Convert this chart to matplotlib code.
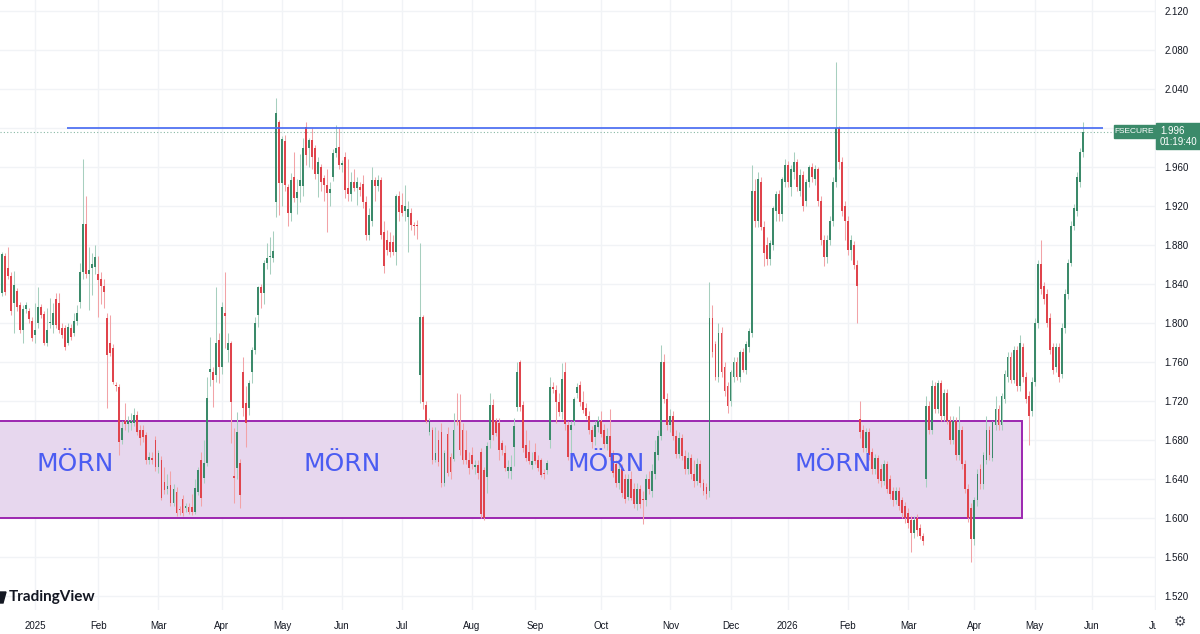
import numpy as np
import pandas as pd
import matplotlib
matplotlib.use("Agg")
import matplotlib.pyplot as plt
from matplotlib.patches import Rectangle, Polygon
from matplotlib.ticker import FormatStrFormatter
from matplotlib.transforms import Bbox

# daily candles, first one 2024-12-10, last one 2026-05-26
opens = [
    1.845, 1.831, 1.869, 1.856, 1.848, 1.821, 1.833, 1.818, 1.793, 1.814,
    1.812, 1.802, 1.788, 1.800, 1.816, 1.809, 1.780, 1.800, 1.798, 1.825,
    1.821, 1.795, 1.795, 1.780, 1.795, 1.790, 1.802, 1.822, 1.852, 1.902,
    1.850, 1.856, 1.857, 1.850, 1.845, 1.838, 1.805, 1.780, 1.774, 1.736,
    1.734, 1.680, 1.699, 1.696, 1.697, 1.697, 1.706, 1.690, 1.690, 1.685,
    1.659, 1.661, 1.680, 1.652, 1.660, 1.637, 1.630, 1.634, 1.615, 1.627,
    1.609, 1.620, 1.610, 1.611, 1.611, 1.606, 1.627, 1.660, 1.641, 1.656,
    1.750, 1.750, 1.747, 1.783, 1.755, 1.810, 1.772, 1.779, 1.643, 1.651,
    1.656, 1.750, 1.718, 1.713, 1.750, 1.772, 1.808, 1.837, 1.831, 1.862,
    1.868, 1.867, 1.924, 2.006, 1.944, 1.987, 1.940, 1.913, 1.950, 1.928,
    1.941, 1.941, 2.001, 1.980, 1.988, 1.979, 1.953, 1.960, 1.949, 1.942,
    1.933, 1.950, 1.974, 1.981, 1.962, 1.970, 1.938, 1.932, 1.945, 1.938,
    1.939, 1.943, 1.924, 1.890, 1.905, 1.947, 1.941, 1.947, 1.893, 1.885,
    1.883, 1.883, 1.873, 1.930, 1.921, 1.915, 1.909, 1.913, 1.901, 1.901,
    1.747, 1.806, 1.716, 1.688, 1.690, 1.660, 1.680, 1.688, 1.636, 1.686,
    1.663, 1.661, 1.700, 1.700, 1.690, 1.670, 1.660, 1.665, 1.652, 1.654,
    1.668, 1.649, 1.642, 1.680, 1.716, 1.700, 1.697, 1.677, 1.667, 1.648,
    1.648, 1.673, 1.714, 1.760, 1.716, 1.675, 1.668, 1.654, 1.668, 1.660,
    1.659, 1.646, 1.649, 1.680, 1.734, 1.731, 1.719, 1.709, 1.750, 1.695,
    1.690, 1.700, 1.728, 1.736, 1.719, 1.713, 1.705, 1.690, 1.683, 1.693,
    1.700, 1.690, 1.676, 1.684, 1.665, 1.655, 1.636, 1.650, 1.640, 1.622,
    1.640, 1.630, 1.614, 1.630, 1.620, 1.618, 1.640, 1.628, 1.645, 1.665,
    1.684, 1.760, 1.722, 1.695, 1.705, 1.684, 1.666, 1.682, 1.664, 1.650,
    1.662, 1.645, 1.638, 1.655, 1.636, 1.632, 1.628, 1.805, 1.778, 1.745,
    1.790, 1.755, 1.735, 1.720, 1.745, 1.760, 1.745, 1.770, 1.752, 1.775,
    1.790, 1.935, 1.905, 1.945, 1.898, 1.880, 1.866, 1.880, 1.915, 1.932,
    1.912, 1.945, 1.962, 1.940, 1.955, 1.965, 1.935, 1.952, 1.925, 1.945,
    1.960, 1.948, 1.958, 1.925, 1.885, 1.868, 1.885, 1.905, 1.945, 2.000,
    1.965, 1.920, 1.905, 1.875, 1.880, 1.860, 1.702, 1.690, 1.672, 1.688,
    1.668, 1.650, 1.662, 1.650, 1.638, 1.655, 1.640, 1.628, 1.618, 1.628,
    1.618, 1.612, 1.605, 1.598, 1.585, 1.600, 1.590, 1.582, 1.640, 1.715,
    1.690, 1.735, 1.712, 1.738, 1.705, 1.728, 1.700, 1.680, 1.700, 1.665,
    1.690, 1.655, 1.630, 1.610, 1.578, 1.618, 1.650, 1.635, 1.660, 1.690,
    1.662, 1.695, 1.712, 1.695, 1.722, 1.745, 1.765, 1.742, 1.772, 1.735,
    1.775, 1.745, 1.725, 1.710, 1.740, 1.800, 1.860, 1.838, 1.830, 1.805,
    1.775, 1.755, 1.775, 1.748, 1.795, 1.830, 1.862, 1.900, 1.915, 1.945,
    1.975,
]
highs = [
    1.852, 1.873, 1.872, 1.878, 1.852, 1.853, 1.836, 1.822, 1.818, 1.822,
    1.815, 1.806, 1.821, 1.837, 1.820, 1.812, 1.815, 1.826, 1.821, 1.831,
    1.831, 1.800, 1.798, 1.800, 1.799, 1.810, 1.818, 1.862, 1.968, 1.930,
    1.878, 1.872, 1.880, 1.869, 1.852, 1.845, 1.810, 1.808, 1.778, 1.740,
    1.737, 1.700, 1.718, 1.705, 1.708, 1.713, 1.710, 1.695, 1.695, 1.688,
    1.668, 1.668, 1.684, 1.670, 1.664, 1.652, 1.645, 1.648, 1.635, 1.632,
    1.612, 1.624, 1.615, 1.615, 1.625, 1.640, 1.652, 1.668, 1.680, 1.745,
    1.786, 1.755, 1.837, 1.790, 1.822, 1.852, 1.790, 1.782, 1.692, 1.709,
    1.661, 1.765, 1.735, 1.742, 1.775, 1.806, 1.838, 1.840, 1.865, 1.882,
    1.888, 1.894, 2.031, 2.008, 1.992, 1.993, 1.943, 1.954, 1.975, 1.948,
    1.973, 1.990, 2.006, 1.990, 2.000, 1.983, 1.970, 1.963, 1.952, 1.958,
    1.945, 1.978, 2.003, 2.000, 1.967, 1.975, 1.968, 1.955, 1.958, 1.950,
    1.945, 1.952, 1.930, 1.918, 1.960, 1.950, 1.952, 1.950, 1.905, 1.895,
    1.893, 1.890, 1.932, 1.935, 1.933, 1.942, 1.925, 1.918, 1.904, 1.906,
    1.882, 1.808, 1.720, 1.703, 1.693, 1.693, 1.690, 1.697, 1.670, 1.693,
    1.667, 1.708, 1.728, 1.727, 1.697, 1.690, 1.668, 1.673, 1.660, 1.660,
    1.672, 1.652, 1.678, 1.728, 1.722, 1.703, 1.703, 1.680, 1.675, 1.660,
    1.665, 1.703, 1.760, 1.762, 1.720, 1.690, 1.680, 1.668, 1.677, 1.665,
    1.662, 1.650, 1.660, 1.745, 1.740, 1.736, 1.728, 1.759, 1.760, 1.700,
    1.700, 1.724, 1.738, 1.741, 1.730, 1.718, 1.710, 1.694, 1.700, 1.705,
    1.710, 1.696, 1.692, 1.712, 1.670, 1.660, 1.655, 1.655, 1.645, 1.645,
    1.648, 1.636, 1.636, 1.634, 1.628, 1.645, 1.648, 1.655, 1.680, 1.690,
    1.777, 1.768, 1.728, 1.712, 1.710, 1.690, 1.688, 1.686, 1.670, 1.668,
    1.666, 1.660, 1.662, 1.660, 1.640, 1.636, 1.842, 1.818, 1.782, 1.800,
    1.796, 1.760, 1.740, 1.752, 1.765, 1.765, 1.772, 1.774, 1.782, 1.795,
    1.962, 1.948, 1.955, 1.950, 1.905, 1.888, 1.885, 1.920, 1.935, 1.936,
    1.950, 1.968, 1.966, 1.962, 1.975, 1.968, 1.958, 1.956, 1.948, 1.962,
    1.964, 1.962, 1.960, 1.930, 1.890, 1.890, 1.910, 1.950, 2.068, 2.002,
    1.970, 1.925, 1.910, 1.890, 1.884, 1.865, 1.720, 1.695, 1.692, 1.692,
    1.672, 1.666, 1.665, 1.655, 1.660, 1.658, 1.644, 1.632, 1.632, 1.632,
    1.622, 1.616, 1.610, 1.602, 1.602, 1.604, 1.594, 1.585, 1.725, 1.720,
    1.742, 1.740, 1.742, 1.742, 1.732, 1.732, 1.705, 1.705, 1.704, 1.715,
    1.694, 1.660, 1.635, 1.615, 1.622, 1.650, 1.655, 1.668, 1.705, 1.694,
    1.700, 1.725, 1.716, 1.728, 1.752, 1.770, 1.770, 1.776, 1.776, 1.788,
    1.780, 1.750, 1.730, 1.745, 1.805, 1.865, 1.885, 1.842, 1.835, 1.810,
    1.780, 1.780, 1.780, 1.800, 1.835, 1.866, 1.905, 1.922, 1.955, 1.980,
    2.006,
]
lows = [
    1.818, 1.828, 1.829, 1.845, 1.808, 1.790, 1.812, 1.790, 1.780, 1.810,
    1.800, 1.782, 1.780, 1.795, 1.805, 1.777, 1.776, 1.795, 1.790, 1.795,
    1.790, 1.785, 1.772, 1.777, 1.783, 1.787, 1.798, 1.815, 1.845, 1.846,
    1.813, 1.829, 1.850, 1.806, 1.820, 1.815, 1.713, 1.766, 1.737, 1.730,
    1.665, 1.676, 1.690, 1.688, 1.690, 1.694, 1.685, 1.675, 1.678, 1.655,
    1.655, 1.655, 1.648, 1.646, 1.618, 1.625, 1.625, 1.612, 1.612, 1.602,
    1.603, 1.602, 1.606, 1.604, 1.603, 1.604, 1.624, 1.612, 1.636, 1.653,
    1.735, 1.714, 1.740, 1.738, 1.748, 1.774, 1.760, 1.677, 1.615, 1.640,
    1.610, 1.705, 1.673, 1.706, 1.738, 1.768, 1.796, 1.815, 1.820, 1.855,
    1.850, 1.863, 1.909, 1.911, 1.920, 1.935, 1.900, 1.905, 1.924, 1.912,
    1.924, 1.930, 1.962, 1.960, 1.958, 1.948, 1.929, 1.935, 1.925, 1.893,
    1.920, 1.946, 1.970, 1.958, 1.955, 1.928, 1.925, 1.925, 1.935, 1.921,
    1.930, 1.918, 1.885, 1.885, 1.900, 1.925, 1.935, 1.886, 1.851, 1.870,
    1.868, 1.870, 1.860, 1.905, 1.910, 1.905, 1.873, 1.895, 1.890, 1.886,
    1.718, 1.712, 1.697, 1.685, 1.655, 1.657, 1.653, 1.632, 1.633, 1.643,
    1.640, 1.658, 1.695, 1.665, 1.655, 1.655, 1.645, 1.650, 1.645, 1.640,
    1.600, 1.598, 1.626, 1.672, 1.680, 1.684, 1.660, 1.665, 1.648, 1.641,
    1.640, 1.653, 1.710, 1.710, 1.668, 1.658, 1.655, 1.650, 1.655, 1.648,
    1.642, 1.640, 1.645, 1.672, 1.728, 1.697, 1.705, 1.702, 1.690, 1.660,
    1.655, 1.695, 1.723, 1.715, 1.708, 1.702, 1.686, 1.672, 1.675, 1.688,
    1.683, 1.672, 1.670, 1.660, 1.642, 1.632, 1.630, 1.622, 1.615, 1.618,
    1.618, 1.610, 1.608, 1.610, 1.594, 1.612, 1.625, 1.622, 1.640, 1.660,
    1.680, 1.718, 1.690, 1.688, 1.680, 1.662, 1.662, 1.660, 1.645, 1.645,
    1.640, 1.632, 1.634, 1.632, 1.624, 1.620, 1.622, 1.765, 1.742, 1.740,
    1.745, 1.725, 1.708, 1.715, 1.740, 1.742, 1.740, 1.750, 1.748, 1.770,
    1.786, 1.898, 1.898, 1.895, 1.858, 1.860, 1.860, 1.875, 1.905, 1.905,
    1.905, 1.940, 1.940, 1.930, 1.948, 1.935, 1.930, 1.915, 1.920, 1.940,
    1.945, 1.942, 1.920, 1.880, 1.858, 1.862, 1.880, 1.900, 1.940, 1.958,
    1.910, 1.885, 1.870, 1.865, 1.855, 1.800, 1.682, 1.668, 1.668, 1.660,
    1.645, 1.645, 1.636, 1.632, 1.634, 1.626, 1.620, 1.612, 1.614, 1.608,
    1.600, 1.595, 1.590, 1.565, 1.580, 1.582, 1.578, 1.572, 1.632, 1.686,
    1.686, 1.708, 1.708, 1.700, 1.700, 1.696, 1.676, 1.676, 1.660, 1.660,
    1.650, 1.626, 1.596, 1.555, 1.572, 1.612, 1.630, 1.630, 1.655, 1.660,
    1.658, 1.690, 1.690, 1.690, 1.718, 1.740, 1.738, 1.738, 1.730, 1.730,
    1.740, 1.718, 1.675, 1.705, 1.735, 1.795, 1.830, 1.820, 1.796, 1.768,
    1.748, 1.750, 1.740, 1.744, 1.790, 1.825, 1.858, 1.895, 1.910, 1.940,
    1.970,
]
closes = [
    1.826, 1.871, 1.832, 1.848, 1.812, 1.839, 1.816, 1.793, 1.814, 1.818,
    1.804, 1.785, 1.793, 1.816, 1.808, 1.780, 1.793, 1.801, 1.810, 1.798,
    1.793, 1.788, 1.775, 1.796, 1.786, 1.802, 1.810, 1.852, 1.902, 1.850,
    1.854, 1.860, 1.868, 1.844, 1.838, 1.832, 1.767, 1.769, 1.740, 1.735,
    1.678, 1.692, 1.696, 1.699, 1.700, 1.706, 1.688, 1.682, 1.683, 1.659,
    1.663, 1.660, 1.652, 1.667, 1.621, 1.629, 1.633, 1.615, 1.630, 1.605,
    1.608, 1.605, 1.612, 1.606, 1.606, 1.631, 1.649, 1.621, 1.656, 1.723,
    1.753, 1.742, 1.780, 1.755, 1.816, 1.807, 1.779, 1.719, 1.641, 1.688,
    1.624, 1.713, 1.697, 1.738, 1.772, 1.800, 1.837, 1.831, 1.862, 1.867,
    1.869, 1.874, 2.015, 1.944, 1.989, 1.942, 1.913, 1.947, 1.928, 1.934,
    1.947, 1.979, 1.972, 1.988, 1.970, 1.953, 1.965, 1.945, 1.942, 1.933,
    1.937, 1.974, 1.980, 1.962, 1.964, 1.936, 1.932, 1.945, 1.938, 1.945,
    1.936, 1.924, 1.890, 1.911, 1.947, 1.941, 1.947, 1.890, 1.858, 1.875,
    1.873, 1.873, 1.930, 1.914, 1.913, 1.920, 1.917, 1.901, 1.899, 1.899,
    1.806, 1.719, 1.700, 1.700, 1.660, 1.667, 1.657, 1.636, 1.667, 1.646,
    1.647, 1.690, 1.698, 1.670, 1.659, 1.660, 1.651, 1.655, 1.654, 1.646,
    1.604, 1.600, 1.674, 1.716, 1.685, 1.687, 1.670, 1.670, 1.651, 1.652,
    1.652, 1.694, 1.750, 1.714, 1.672, 1.662, 1.658, 1.658, 1.658, 1.651,
    1.644, 1.645, 1.656, 1.734, 1.732, 1.719, 1.709, 1.743, 1.696, 1.663,
    1.695, 1.722, 1.734, 1.719, 1.711, 1.705, 1.690, 1.678, 1.695, 1.700,
    1.686, 1.676, 1.684, 1.663, 1.646, 1.636, 1.650, 1.626, 1.620, 1.640,
    1.621, 1.614, 1.630, 1.614, 1.618, 1.640, 1.630, 1.648, 1.668, 1.684,
    1.760, 1.722, 1.695, 1.705, 1.684, 1.666, 1.682, 1.664, 1.650, 1.662,
    1.645, 1.638, 1.655, 1.636, 1.628, 1.625, 1.805, 1.770, 1.745, 1.790,
    1.750, 1.730, 1.715, 1.750, 1.760, 1.745, 1.770, 1.752, 1.778, 1.792,
    1.935, 1.905, 1.948, 1.898, 1.872, 1.866, 1.882, 1.918, 1.932, 1.912,
    1.948, 1.962, 1.945, 1.958, 1.965, 1.940, 1.952, 1.920, 1.945, 1.960,
    1.950, 1.958, 1.925, 1.885, 1.868, 1.885, 1.905, 1.945, 2.000, 1.965,
    1.915, 1.905, 1.875, 1.885, 1.860, 1.838, 1.688, 1.672, 1.688, 1.665,
    1.650, 1.662, 1.640, 1.638, 1.655, 1.630, 1.625, 1.618, 1.628, 1.612,
    1.605, 1.600, 1.595, 1.585, 1.598, 1.588, 1.582, 1.576, 1.715, 1.690,
    1.735, 1.712, 1.738, 1.705, 1.728, 1.700, 1.680, 1.700, 1.665, 1.690,
    1.655, 1.630, 1.600, 1.578, 1.618, 1.645, 1.635, 1.665, 1.690, 1.665,
    1.698, 1.712, 1.695, 1.725, 1.748, 1.765, 1.742, 1.772, 1.735, 1.780,
    1.745, 1.722, 1.705, 1.740, 1.800, 1.860, 1.835, 1.825, 1.800, 1.772,
    1.752, 1.775, 1.745, 1.795, 1.830, 1.862, 1.900, 1.918, 1.950, 1.975,
    1.996,
]

ticker = "FSECURE"
last_price = 1.996
countdown = "01:19:40"
resistance = 2.000
zone_low, zone_high = 1.600, 1.700
zone_label = "MÖRN"

# Helsinki exchange closing days
holidays = [
    "2024-12-24", "2024-12-25", "2024-12-26", "2024-12-31",
    "2025-01-01", "2025-01-06", "2025-04-18", "2025-04-21", "2025-05-01",
    "2025-05-29", "2025-06-20", "2025-12-24", "2025-12-25", "2025-12-26",
    "2025-12-31", "2026-01-01", "2026-01-06", "2026-04-03", "2026-04-06",
    "2026-05-01", "2026-05-14", "2026-06-19",
]
cal = pd.bdate_range("2024-12-10", "2026-07-31", freq="C", holidays=holidays)

o = np.array(opens)
h = np.array(highs)
l = np.array(lows)
c = np.array(closes)
x = np.arange(len(c))

W, H = 1200, 634
fig = plt.figure(figsize=(W / 100, H / 100), dpi=100)
ax = fig.add_axes([0, 24 / H, 1156 / W, 610 / H])

up = c >= o
body_col = np.where(up, "#3b8a6a", "#e0444c")
wick_col = np.where(up, "#a7cfbf", "#f2a3a7")
ax.vlines(x, l, h, colors=wick_col, lw=0.75, zorder=3)
ax.bar(x, np.maximum(np.abs(c - o), 0.0012), bottom=np.minimum(o, c),
       width=0.62, color=body_col, lw=0, zorder=4)

# pixel layout: Jan 2 2025 sits at x=35px, 3.011 px per session
i0 = cal.get_loc(pd.Timestamp("2025-01-02"))
step = 3.011
xl = (i0 - 35 / step, i0 + (1156 - 35) / step)
ax.set_xlim(*xl)
ax.set_ylim(2.12 - 599 / 975, 2.12 + 11 / 975)

ax.add_patch(Rectangle((xl[0] - 2, zone_low), i0 + 987 / step - xl[0] + 2,
                       zone_high - zone_low, facecolor="#e7d7ee",
                       edgecolor="#9c27b0", lw=1.4, zorder=2))
for xp in [75, 342, 606, 833]:
    ax.text(i0 + (xp - 35) / step, 1.655, zone_label, color="#4b5cf2",
            fontsize=18, ha="center", va="center", zorder=6)

ax.hlines(resistance, i0 + 32 / step, i0 + 1068 / step, color="#4468f2",
          lw=1.2, zorder=5)
ax.axhline(last_price, color="#3b8a6a", lw=0.8, ls=(0, (1, 2)), alpha=0.6,
           zorder=2)

# month ticks at the first session of each month
s = pd.Series(np.arange(len(cal)), index=cal)
firsts = s.groupby([cal.year, cal.month]).min()
mpos, mlab = [], []
for (yr, mo), p in firsts.items():
    if p < i0:
        continue
    mpos.append(p)
    mlab.append(str(yr) if mo == 1 else cal[p].strftime("%b"))
ax.set_xticks(mpos)
ax.set_xticklabels(mlab)
ax.set_yticks(np.arange(1.52, 2.1201, 0.04))
ax.yaxis.set_major_formatter(FormatStrFormatter("%.3f"))
ax.yaxis.tick_right()
ax.tick_params(axis="both", length=0, labelsize=7, labelcolor="#131722")
ax.tick_params(axis="x", pad=8)
ax.tick_params(axis="y", pad=6)
for lbl in ax.get_xticklabels() + ax.get_yticklabels():
    lbl.set_fontfamily("Liberation Sans")
clip = Bbox([[0, 0], [1156, H]])
for lbl in ax.get_xticklabels():
    lbl.set_clip_box(clip)
    lbl.set_clip_on(True)

ax.grid(color="#f1f3f6", lw=1)
ax.set_axisbelow(True)
for sp in ax.spines.values():
    sp.set_visible(False)


def fx(px):
    return px / W


def fy(py):
    return 1 - py / H


# price tags on the right scale
fig.add_artist(Rectangle((fx(1114), fy(138)), fx(41), 13 / H,
                         transform=fig.transFigure, color="#3b8a6a", zorder=10))
fig.add_artist(Rectangle((fx(1156), fy(149)), fx(44), 26 / H,
                         transform=fig.transFigure, color="#3b8a6a", zorder=10))
fig.text(fx(1134.5), fy(131.5), ticker, color="white", fontsize=6,
         family="Liberation Sans", ha="center", va="center", zorder=11)
fig.text(fx(1160), fy(131), f"{last_price:.3f}", color="white", fontsize=7,
         family="Liberation Sans", ha="left", va="center", zorder=11)
fig.text(fx(1160), fy(142), countdown, color="white", fontsize=7,
         family="Liberation Sans", ha="left", va="center", zorder=11)

# watermark logo and settings icon
fig.add_artist(Polygon([(fx(0), fy(592)), (fx(6), fy(592)), (fx(3), fy(603)),
                        (fx(0), fy(603))], closed=True,
                       transform=fig.transFigure, color="#131722"))
fig.text(fx(9), fy(597), "TradingView", fontsize=11, fontweight="bold",
         family="Lato", color="#131722", va="center")
fig.text(fx(1180), fy(622), "\u2699", fontsize=10, color="#434651",
         ha="center", va="center")

fig.savefig("out.png", dpi=100)
